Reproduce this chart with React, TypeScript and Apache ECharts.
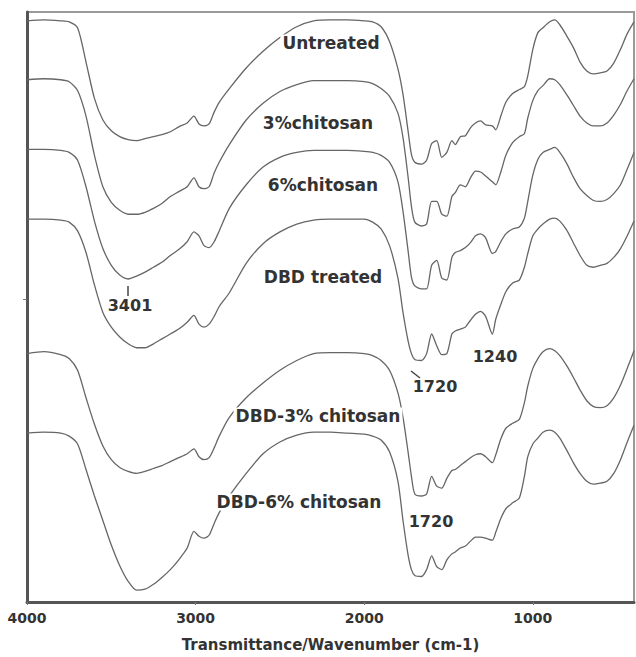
import React, { useEffect, useRef } from "react";
import * as echarts from "echarts";

const wavenumbers = [
  4000, 3900, 3800, 3750, 3700, 3650, 3600, 3550, 3500, 3450,
  3400, 3350, 3300, 3250, 3200, 3150, 3100, 3050, 3010, 2980,
  2950, 2920, 2890, 2860, 2800, 2700, 2600, 2500, 2400, 2300,
  2200, 2100, 2000, 1950, 1900, 1850, 1800, 1770, 1740, 1720,
  1700, 1660, 1630, 1600, 1570, 1540, 1510, 1480, 1460, 1430,
  1400, 1370, 1340, 1310, 1280, 1240, 1220, 1190, 1160, 1120,
  1080, 1050, 1030, 1000, 970, 940, 900, 870, 840, 800,
  760, 720, 680, 640, 600, 560, 520, 480, 440, 400,
];

const untreated = [
  592, 593, 592, 591, 585, 550, 513, 491, 480, 474,
  471, 470, 472, 474, 476, 479, 484, 488, 495, 487,
  485, 487, 499, 509, 523, 544, 561, 575, 586, 592,
  593, 593, 592, 591, 586, 571, 543, 517, 480, 456,
  448, 446, 450, 467, 470, 453, 458, 470, 466, 474,
  475, 483, 488, 490, 486, 485, 481, 495, 509, 518,
  522, 525, 536, 563, 580, 585, 591, 593, 588, 577,
  565, 550, 541, 538, 539, 541, 549, 563, 579, 591,
];

const chitosan3 = [
  532, 533, 532, 530, 521, 495, 455, 423, 407, 399,
  395, 395, 397, 401, 406, 413, 418, 423, 432, 423,
  421, 423, 437, 448, 466, 491, 508, 520, 527, 531,
  531, 531, 530, 528, 523, 515, 498, 473, 433, 403,
  387, 383, 385, 408, 408, 395, 393, 413, 417, 425,
  423, 432, 439, 438, 434, 428, 425, 438, 455, 468,
  474, 477, 493, 511, 521, 526, 533, 532, 527, 517,
  506, 495, 488, 485, 485, 488, 496, 507, 521, 533,
];

const chitosan6 = [
  461, 461, 460, 458, 450, 423, 388, 360, 343, 333,
  329, 332, 336, 341, 346, 353, 359, 367, 377, 373,
  363, 361, 367, 378, 401, 425, 443, 453, 458, 460,
  460, 460, 459, 458, 455, 448, 428, 398, 358, 331,
  322, 319, 319, 343, 348, 330, 328, 351, 356, 358,
  361, 366, 373, 375, 371, 355, 357, 367, 375, 380,
  382, 391, 408, 435, 451, 458, 461, 463, 458, 447,
  433, 421, 414, 409, 408, 410, 416, 425, 441, 458,
];

const dbdTreated = [
  390, 390, 389, 387, 378, 356, 323, 295, 280, 270,
  263, 259, 259, 263, 268, 273, 278, 285, 292, 283,
  280, 283, 291, 301, 315, 345, 365, 377, 385, 389,
  390, 390, 390, 387, 380, 363, 330, 295, 266, 253,
  247, 246, 253, 273, 261, 252, 253, 273, 276, 278,
  280, 287, 293, 296, 291, 273, 288, 303, 316, 325,
  328, 341, 355, 373, 380, 385, 390, 391, 388, 379,
  366, 353, 343, 341, 343, 345, 351, 360, 373, 388,
];

const dbdChitosan3 = [
  253, 255, 252, 248, 236, 208, 181, 159, 145, 137,
  133, 131, 133, 136, 139, 143, 147, 151, 156, 148,
  145, 147, 157, 169, 188, 208, 223, 236, 246, 253,
  254, 254, 253, 251, 246, 236, 213, 188, 153, 128,
  110, 108, 110, 128, 118, 116, 126, 134, 135, 139,
  143, 147, 150, 151, 148, 142, 150, 166, 177, 182,
  186, 203, 220, 238, 248, 255, 258, 256, 251, 241,
  229, 216, 205, 199, 198, 200, 208, 221, 238, 256,
];

const dbdChitosan6 = [
  172, 173, 172, 169, 161, 135, 108, 83, 58, 37,
  21, 12, 13, 18, 25, 33, 43, 55, 72, 67,
  65, 68, 80, 91, 108, 131, 151, 163, 170, 173,
  173, 172, 171, 169, 165, 153, 123, 83, 48, 33,
  27, 26, 33, 47, 36, 33, 43, 49, 51, 55,
  57, 62, 66, 66, 65, 63, 71, 85, 95, 101,
  106, 128, 148, 161, 167, 173, 175, 173, 167, 155,
  142, 131, 123, 120, 121, 123, 131, 145, 163, 180,
];

const seriesNames = [
  "Untreated",
  "3%chitosan",
  "6%chitosan",
  "DBD treated",
  "DBD-3% chitosan",
  "DBD-6% chitosan",
];
const seriesValues = [untreated, chitosan3, chitosan6, dbdTreated, dbdChitosan3, dbdChitosan6];

const xTickValues = [4000, 3000, 2000, 1000];
const xAxisTitle = "Transmittance/Wavenumber (cm-1)";

export default function App() {
  const ref = useRef<HTMLDivElement>(null);

  useEffect(() => {
    if (!ref.current) return;
    const chart = echarts.init(ref.current, null, { renderer: "svg" });

    const labelFont = 'bold 17px "DejaVu Sans"';
    const numFont = 'bold 16px "DejaVu Sans"';
    const txt = (text: string, x: number, y: number, font: string) => ({
      type: "text",
      x,
      y,
      z: 100,
      style: {
        text,
        font,
        fill: "#333",
        align: "center",
        verticalAlign: "middle",
        backgroundColor: "#fff",
        padding: [0, 2],
      },
    });

    chart.setOption({
      animation: false,
      backgroundColor: "#fff",
      grid: {
        left: 27,
        right: 2,
        top: 12,
        bottom: 44,
        show: true,
        borderColor: "#9a9a9a",
        borderWidth: 2,
      },
      xAxis: {
        type: "value",
        inverse: true,
        min: 400,
        max: 4000,
        name: xAxisTitle,
        nameLocation: "middle",
        nameGap: 35,
        nameTextStyle: {
          fontFamily: "DejaVu Sans",
          fontWeight: "bold",
          fontSize: 15,
          color: "#333",
        },
        axisLine: { show: true, onZero: false, lineStyle: { color: "#555", width: 3 } },
        axisTick: { show: true, customValues: xTickValues, length: 3, lineStyle: { color: "#777" } },
        axisLabel: {
          customValues: xTickValues,
          formatter: (v: number) => String(v),
          fontFamily: "DejaVu Sans",
          fontWeight: "bold",
          fontSize: 14,
          color: "#333",
          margin: 9,
        },
        splitLine: { show: false },
      },
      yAxis: {
        type: "value",
        min: 0,
        max: 601,
        axisLine: { show: true, onZero: false, lineStyle: { color: "#555", width: 3 } },
        axisTick: { show: true, customValues: [308], length: 4, lineStyle: { color: "#777" } },
        axisLabel: { show: false },
        splitLine: { show: false },
      },
      series: seriesNames.map((name, i) => ({
        name,
        type: "line",
        showSymbol: false,
        smooth: 0.25,
        lineStyle: { color: "#666", width: 1.3 },
        data: wavenumbers.map((w, j) => [w, seriesValues[i][j]]),
      })),
      graphic: [
        txt("Untreated", 331, 43, labelFont),
        txt("3%chitosan", 318, 123, labelFont),
        txt("6%chitosan", 323, 185, labelFont),
        txt("DBD treated", 323, 277, labelFont),
        txt("DBD-3% chitosan", 318, 416, labelFont),
        txt("DBD-6% chitosan", 299, 502, labelFont),
        txt("3401", 130, 305, numFont),
        txt("1720", 435, 386, numFont),
        txt("1240", 495, 356, numFont),
        txt("1720", 431, 521, numFont),
        {
          type: "line",
          z: 100,
          shape: { x1: 128, y1: 286, x2: 128, y2: 296 },
          style: { stroke: "#444", lineWidth: 1.5 },
        },
        {
          type: "line",
          z: 100,
          shape: { x1: 411, y1: 371, x2: 420, y2: 378 },
          style: { stroke: "#444", lineWidth: 1.5 },
        },
      ],
    });

    return () => chart.dispose();
  }, []);

  return (
    <div
      ref={ref}
      style={{ position: "fixed", left: 0, top: 0, width: 636, height: 657, background: "#fff" }}
    />
  );
}
